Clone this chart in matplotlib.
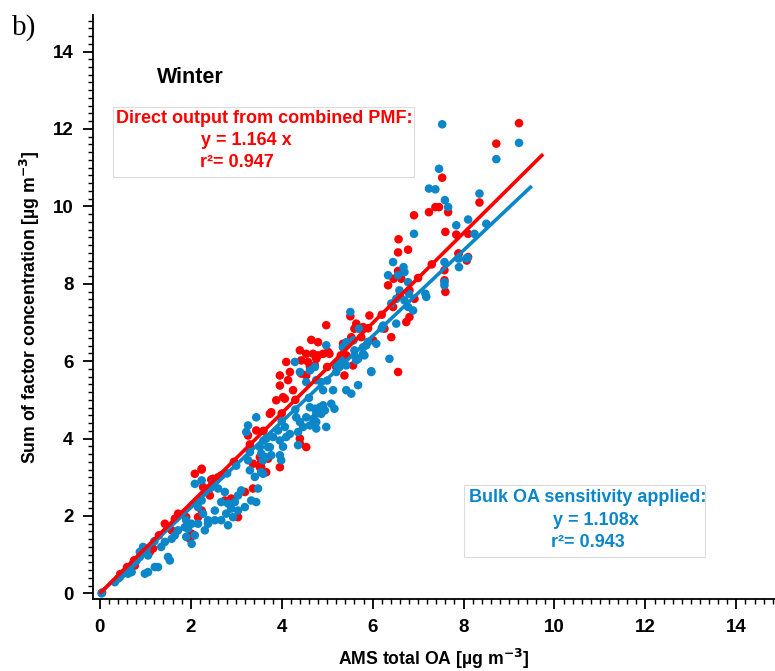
import matplotlib
matplotlib.use('Agg')
import matplotlib.pyplot as plt
from matplotlib.patches import Rectangle
from matplotlib.ticker import MultipleLocator
import numpy as np

# Direct output from combined PMF (red)
red_x = [9.22, 8.72, 7.53, 8.35, 7.38, 7.46, 7.66, 7.24, 6.91, 6.57, 6.78, 6.56, 7.60,
         7.84, 8.10, 7.89, 8.10, 6.56, 6.46, 6.34, 6.63, 6.81, 6.92, 6.45, 6.81, 6.74,
         7.58, 7.58, 7.60, 7.89, 8.07, 5.51, 5.93, 5.60, 5.79, 5.35, 5.42, 5.57, 6.41,
         6.26, 6.01, 6.56, 5.38, 5.05, 5.20, 5.64, 5.71, 4.98, 5.53, 5.75, 4.65, 4.80,
         4.40, 4.54, 4.69, 4.80, 4.91, 5.02, 4.43, 4.58, 4.76, 4.73, 4.62, 4.10, 4.18,
         4.43, 4.54, 3.96, 4.14, 3.96, 3.88, 4.25, 4.07, 3.77, 4.03, 3.26, 3.44, 3.74,
         3.52, 3.37, 3.96, 4.40, 4.54, 4.40, 2.24, 2.49, 3.55, 3.66, 2.09, 2.24, 2.45,
         2.67, 2.45, 2.27, 2.42, 1.90, 2.16, 2.24, 2.02, 2.75, 2.89, 3.19, 3.04, 3.37,
         3.55, 3.70, 3.52, 1.17, 1.10, 0.77, 0.77, 1.43, 1.58, 1.72, 1.65, 1.98, 0.05,
         0.45, 0.60, 0.75, 0.92, 1.30, 2.60, 2.95, 3.30, 3.60, 4.00, 4.30, 5.00, 5.30,
         5.90, 6.20, 6.60, 7.00, 7.30]
red_y = [12.15, 11.62, 10.74, 10.10, 9.98, 9.98, 9.85, 9.85, 9.77, 9.15, 8.88, 8.81, 9.34,
         9.27, 9.29, 8.78, 8.69, 8.33, 8.13, 7.96, 8.13, 7.83, 7.61, 7.40, 7.14, 7.01,
         8.35, 8.09, 7.79, 8.78, 8.60, 7.16, 7.18, 6.84, 6.88, 6.45, 6.15, 5.89, 6.62,
         6.84, 6.54, 5.72, 5.63, 6.19, 5.85, 6.97, 6.84, 6.93, 6.62, 6.62, 6.55, 6.49,
         6.28, 6.19, 6.19, 6.15, 6.19, 6.24, 6.02, 5.98, 6.06, 5.89, 5.85, 5.98, 5.72,
         5.68, 5.63, 5.63, 5.51, 5.37, 4.99, 5.25, 5.03, 4.68, 5.07, 4.08, 4.21, 4.64,
         3.52, 3.35, 3.26, 3.87, 3.78, 4.00, 3.22, 2.96, 3.26, 3.13, 3.09, 3.20, 2.94,
         3.05, 2.75, 2.75, 2.53, 1.97, 1.97, 2.14, 1.54, 2.40, 2.45, 2.62, 1.97, 2.71,
         3.39, 3.48, 3.26, 1.16, 1.07, 0.85, 0.72, 1.80, 1.63, 2.06, 1.93, 1.41, 0.02,
         0.50, 0.68, 0.85, 1.05, 1.50, 3.00, 3.40, 3.85, 4.20, 4.65, 5.00, 5.85, 6.15,
         6.85, 7.20, 7.70, 8.15, 8.50]

# Bulk OA sensitivity applied (blue)
blue_x = [7.53, 9.22, 8.72, 7.46, 7.24, 7.38, 8.35, 7.59, 7.66, 6.91, 7.84, 8.10, 8.24,
          8.50, 8.09, 6.45, 6.68, 6.70, 6.34, 6.56, 6.78, 6.59, 6.52, 6.80, 6.78, 6.89,
          6.70, 6.41, 7.16, 7.18, 7.58, 7.58, 7.58, 7.89, 7.90, 8.06, 5.51, 5.70, 5.58,
          5.35, 5.79, 5.82, 5.68, 6.08, 6.23, 6.37, 5.97, 6.52, 5.20, 4.29, 4.40, 4.73,
          4.62, 4.54, 4.76, 4.98, 5.35, 5.42, 5.60, 5.64, 5.79, 5.86, 5.97, 5.42, 5.53,
          5.68, 5.13, 4.91, 4.87, 5.09, 5.16, 4.98, 5.42, 5.27, 5.20, 5.31, 4.62, 4.73,
          4.84, 4.91, 4.76, 4.87, 4.69, 4.54, 4.40, 4.47, 4.62, 4.76, 4.32, 4.36, 4.07,
          4.18, 3.96, 4.10, 4.03, 4.36, 3.81, 3.92, 4.76, 4.95, 3.44, 3.26, 3.22, 3.66,
          3.74, 3.77, 3.52, 3.59, 3.26, 3.30, 3.59, 3.96, 3.99, 2.09, 2.24, 2.31, 2.42,
          2.24, 2.16, 2.27, 2.38, 2.16, 2.31, 2.02, 1.90, 2.09, 1.94, 2.60, 2.75, 2.67,
          2.82, 2.97, 3.04, 3.11, 2.89, 3.04, 3.19, 2.78, 2.93, 2.53, 2.53, 2.38, 2.67,
          2.82, 3.44, 3.33, 3.41, 3.55, 3.66, 3.55, 3.70, 3.48, 1.03, 0.95, 0.88, 1.06,
          1.35, 1.43, 1.58, 1.65, 1.72, 1.87, 1.50, 1.54, 1.28, 1.21, 1.06, 0.99, 2.02,
          1.90, 0.04, 0.44, 0.51, 0.59, 0.66, 0.73, 0.81, 0.88, 0.33, 0.40, 0.62, 0.70,
          1.20, 2.50, 2.80, 3.00, 3.30, 3.60, 4.00, 4.30, 4.60, 5.00, 5.60, 5.90, 6.20]
blue_y = [12.12, 11.64, 11.22, 10.97, 10.46, 10.44, 10.33, 10.16, 9.98, 9.29, 9.51, 9.66, 9.29,
          9.55, 8.67, 8.56, 8.43, 8.30, 8.22, 8.22, 8.04, 7.83, 7.61, 7.74, 7.40, 7.31,
          7.57, 7.49, 7.74, 7.66, 8.56, 8.04, 7.96, 8.65, 8.43, 8.65, 7.27, 6.84, 6.54,
          6.36, 6.36, 6.15, 6.06, 6.45, 6.92, 6.06, 5.74, 6.97, 5.91, 5.98, 5.72, 5.85,
          5.76, 5.46, 5.51, 6.41, 6.36, 6.49, 6.28, 6.02, 6.19, 6.41, 5.72, 5.25, 5.16,
          5.38, 5.25, 5.25, 5.46, 4.90, 4.77, 4.30, 5.89, 5.85, 5.72, 6.02, 4.81, 4.77,
          4.81, 4.86, 4.64, 4.64, 4.51, 4.55, 4.43, 4.30, 4.34, 4.43, 4.55, 4.17, 4.30,
          4.12, 3.95, 4.04, 3.79, 3.83, 4.04, 4.21, 4.26, 4.73, 4.55, 4.34, 4.17, 4.00,
          3.78, 3.57, 3.78, 3.44, 3.44, 3.18, 3.09, 3.57, 3.44, 2.83, 2.92, 2.62, 2.71,
          2.40, 2.23, 2.06, 1.89, 1.80, 1.63, 1.80, 1.89, 1.50, 1.67, 2.71, 2.62, 2.36,
          2.32, 2.36, 2.53, 2.66, 2.19, 2.14, 2.23, 2.06, 1.97, 2.14, 1.89, 1.80, 1.89,
          1.76, 2.36, 2.40, 3.01, 3.13, 3.52, 3.61, 3.78, 2.71, 1.16, 1.20, 1.07, 0.98,
          1.20, 1.33, 1.41, 1.50, 1.63, 1.71, 0.94, 0.85, 0.68, 0.68, 0.55, 0.51, 1.28,
          1.46, 0.00, 0.42, 0.51, 0.59, 0.68, 0.77, 0.85, 0.94, 0.29, 0.38, 0.51, 0.55,
          1.35, 2.85, 3.10, 3.30, 3.65, 3.95, 4.45, 4.75, 5.05, 5.50, 6.15, 6.50, 6.85]

# fit results
red_slope, red_r2 = 1.164, 0.947
blue_slope, blue_r2 = 1.108, 0.943
red_fit_x = [0.0, 9.75]
blue_fit_x = [0.0, 9.5]

RED = '#ff0000'
BLUE = '#0b86c9'
plt.rcParams['font.family'] = ['Liberation Sans', 'DejaVu Sans']

fig = plt.figure(figsize=(7.75, 6.71), dpi=100)
ax = fig.add_axes([0.12, 0.107, 0.88, 0.871])

ax.scatter(red_x, red_y, s=38, color=RED, edgecolors='none', zorder=2)
ax.scatter(blue_x, blue_y, s=38, color=BLUE, edgecolors='none', zorder=3)
ax.plot(blue_fit_x, blue_slope * np.array(blue_fit_x), color=BLUE, lw=2.6, zorder=4,
        solid_capstyle='butt')
ax.plot(red_fit_x, red_slope * np.array(red_fit_x), color=RED, lw=2.6, zorder=5,
        solid_capstyle='butt')

ax.set_xlim(-0.15, 14.85)
ax.set_ylim(-0.15, 14.95)
ax.xaxis.set_major_locator(MultipleLocator(2))
ax.xaxis.set_minor_locator(MultipleLocator(0.2))
ax.yaxis.set_major_locator(MultipleLocator(2))
ax.yaxis.set_minor_locator(MultipleLocator(0.2))
for s in ['top', 'right']:
    ax.spines[s].set_visible(False)
for s in ['left', 'bottom']:
    ax.spines[s].set_linewidth(1.3)
ax.tick_params(which='major', direction='out', length=7, width=1.3, labelsize=13.5, pad=7)
ax.tick_params(which='minor', direction='out', length=3.5, width=1.0)
for lab in ax.get_xticklabels() + ax.get_yticklabels():
    lab.set_fontweight('bold')

ax.set_xlabel('AMS total OA [µg m$^{\\mathbf{-3}}$]', fontsize=12.7, fontweight='bold')
ax.set_ylabel('Sum of factor concentration [µg m$^{\\mathbf{-3}}$]', fontsize=12.7,
              fontweight='bold')
ax.xaxis.set_label_coords(0.5, -0.082)
ax.yaxis.set_label_coords(-0.075, 0.5)

ax.text(2.0, 13.33, 'Winter', fontsize=15.5, fontweight='bold', ha='center', va='center')

# red annotation box
ax.add_patch(Rectangle((0.29, 10.75), 6.63, 1.81, fill=False, edgecolor='#dcdcdc', lw=0.8))
ax.text(0.35, 12.27, 'Direct output from combined PMF:', color=RED, fontsize=13,
        fontweight='bold', ha='left', va='center')
ax.text(3.23, 11.71, f'y = {red_slope:.3f} x', color=RED, fontsize=13,
        fontweight='bold', ha='center', va='center')
ax.text(3.01, 11.14, f'r²= {red_r2:.3f}', color=RED, fontsize=13,
        fontweight='bold', ha='center', va='center')

# blue annotation box
ax.add_patch(Rectangle((8.02, 0.93), 5.3, 1.86, fill=False, edgecolor='#dcdcdc', lw=0.8))
ax.text(10.73, 2.48, 'Bulk OA sensitivity applied:', color=BLUE, fontsize=13,
        fontweight='bold', ha='center', va='center')
ax.text(10.9, 1.89, f'y = {blue_slope:.3f}x', color=BLUE, fontsize=13,
        fontweight='bold', ha='center', va='center')
ax.text(10.73, 1.32, f'r²= {blue_r2:.3f}', color=BLUE, fontsize=13,
        fontweight='bold', ha='center', va='center')

fig.text(0.015, 0.948, 'b)', family='Liberation Serif', fontsize=21)

fig.savefig('out.png', dpi=100)
